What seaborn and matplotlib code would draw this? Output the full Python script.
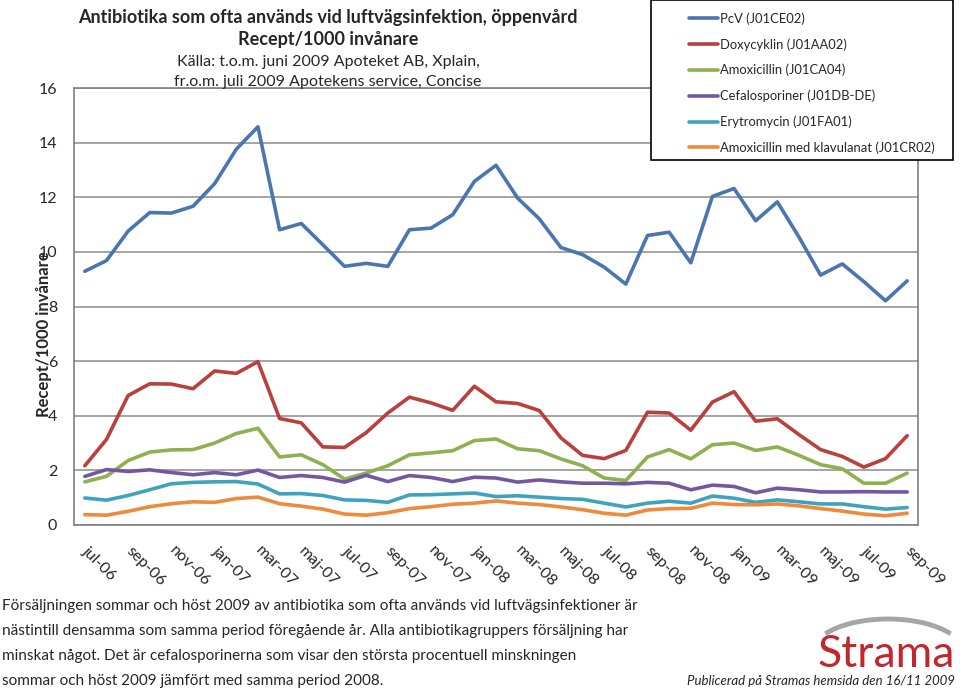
import pandas as pd
import seaborn as sns
import matplotlib.pyplot as plt
from matplotlib.patches import Rectangle, Arc

# months jul-06 .. sep-09
months = ["jul-06", "aug-06", "sep-06", "okt-06", "nov-06", "dec-06",
          "jan-07", "feb-07", "mar-07", "apr-07", "maj-07", "jun-07",
          "jul-07", "aug-07", "sep-07", "okt-07", "nov-07", "dec-07",
          "jan-08", "feb-08", "mar-08", "apr-08", "maj-08", "jun-08",
          "jul-08", "aug-08", "sep-08", "okt-08", "nov-08", "dec-08",
          "jan-09", "feb-09", "mar-09", "apr-09", "maj-09", "jun-09",
          "jul-09", "aug-09", "sep-09"]

pcv = [9.29, 9.68, 10.76, 11.44, 11.42, 11.67, 12.50, 13.76, 14.58, 10.81,
       11.04, 10.26, 9.47, 9.58, 9.47, 10.81, 10.87, 11.36, 12.58, 13.17,
       11.97, 11.21, 10.16, 9.90, 9.44, 8.82, 10.60, 10.72, 9.60, 12.03,
       12.32, 11.14, 11.83, 10.54, 9.15, 9.56, 8.91, 8.21, 8.94]
doxy = [2.17, 3.13, 4.74, 5.17, 5.16, 4.99, 5.64, 5.55, 5.98, 3.90,
        3.74, 2.86, 2.84, 3.38, 4.10, 4.68, 4.47, 4.20, 5.08, 4.51,
        4.45, 4.19, 3.19, 2.55, 2.43, 2.73, 4.13, 4.10, 3.47, 4.50,
        4.88, 3.80, 3.89, 3.31, 2.76, 2.51, 2.12, 2.43, 3.27]
amox = [1.58, 1.78, 2.36, 2.67, 2.75, 2.76, 3.00, 3.35, 3.54, 2.49,
        2.57, 2.21, 1.68, 1.90, 2.17, 2.57, 2.64, 2.72, 3.09, 3.15,
        2.79, 2.72, 2.42, 2.17, 1.72, 1.63, 2.49, 2.76, 2.42, 2.94,
        3.00, 2.73, 2.86, 2.55, 2.21, 2.06, 1.53, 1.53, 1.90]
cef = [1.78, 2.03, 1.96, 2.02, 1.92, 1.84, 1.92, 1.84, 2.01, 1.74,
       1.81, 1.74, 1.57, 1.82, 1.59, 1.81, 1.74, 1.59, 1.75, 1.72,
       1.57, 1.65, 1.58, 1.53, 1.53, 1.51, 1.56, 1.53, 1.29, 1.46,
       1.41, 1.18, 1.35, 1.29, 1.21, 1.21, 1.22, 1.21, 1.21]
ery = [0.99, 0.91, 1.08, 1.29, 1.51, 1.56, 1.58, 1.59, 1.50, 1.14,
       1.15, 1.08, 0.92, 0.90, 0.83, 1.10, 1.11, 1.14, 1.17, 1.04,
       1.07, 1.02, 0.97, 0.94, 0.80, 0.66, 0.80, 0.87, 0.80, 1.06,
       0.98, 0.83, 0.92, 0.85, 0.77, 0.77, 0.67, 0.58, 0.64]
amcl = [0.38, 0.36, 0.50, 0.67, 0.78, 0.85, 0.83, 0.97, 1.02, 0.78,
        0.69, 0.58, 0.40, 0.36, 0.45, 0.60, 0.67, 0.76, 0.80, 0.88,
        0.80, 0.75, 0.66, 0.56, 0.43, 0.36, 0.55, 0.60, 0.61, 0.80,
        0.75, 0.74, 0.77, 0.70, 0.60, 0.51, 0.40, 0.34, 0.43]

series_names = ["PcV (J01CE02)", "Doxycyklin (J01AA02)", "Amoxicillin (J01CA04)",
                "Cefalosporiner (J01DB-DE)", "Erytromycin (J01FA01)",
                "Amoxicillin med klavulanat (J01CR02)"]
colors = ["#4A76B0", "#B8403D", "#8DB14E", "#7357A0", "#3FA3BE", "#EE8A3C"]

# long table for seaborn
frames = []
for name, vals in zip(series_names, [pcv, doxy, amox, cef, ery, amcl]):
    frames.append(pd.DataFrame({"idx": range(len(months)), "month": months,
                                "value": vals, "serie": name}))
df = pd.concat(frames, ignore_index=True)

sns.set_style("white")
plt.rcParams["font.family"] = ["Lato", "DejaVu Sans"]

fig = plt.figure(figsize=(9.6, 6.9), dpi=100)
ax = fig.add_axes([74 / 960, 1 - 525 / 690, 844 / 960, 437 / 690])

sns.lineplot(data=df, x="idx", y="value", hue="serie", hue_order=series_names,
             palette=colors, linewidth=2.6, ax=ax)

ax.set_xlim(-0.5, len(months) - 0.5)
ax.set_ylim(0, 16)
ax.set_yticks(range(0, 17, 2))
ax.yaxis.grid(True, color="#8c8c8c", linewidth=1.1)
ax.set_xticks(range(0, len(months), 2))
ax.set_xticklabels(months[::2], rotation=-45, rotation_mode="anchor",
                   ha="left", va="center")
ax.tick_params(axis="x", length=0, pad=17, labelsize=11.5)
ax.tick_params(axis="y", length=0, pad=12, labelsize=11.5)
ax.set_xlabel("")
ax.set_ylabel("")
for sp in ax.spines.values():
    sp.set_color("#7f7f7f")
    sp.set_linewidth(1.2)

# legend box on top-right
handles, labels = ax.get_legend_handles_labels()
ax.get_legend().remove()
box = Rectangle((651 / 960, 1 - 160 / 690), 302 / 960, 160 / 690,
                transform=fig.transFigure, facecolor="white",
                edgecolor="black", linewidth=1.2, zorder=3)
fig.add_artist(box)
leg = fig.legend(handles, labels, loc="upper left",
                 bbox_to_anchor=(678 / 960, 1 - 1 / 690), frameon=False,
                 fontsize=9.4, handlelength=2.2, handletextpad=0.15,
                 labelspacing=1.02, borderpad=0.35)
leg.set_zorder(4)

# titles
tx = 328 / 960
fig.text(tx, 1 - 17 / 690, "Antibiotika som ofta används vid luftvägsinfektion, öppenvård",
         ha="center", va="center", fontsize=13, fontweight="bold")
fig.text(tx, 1 - 40 / 690, "Recept/1000 invånare", ha="center", va="center",
         fontsize=13, fontweight="bold")
fig.text(tx, 1 - 62 / 690, "Källa: t.o.m. juni 2009 Apoteket AB, Xplain,",
         ha="center", va="center", fontsize=11.5)
fig.text(tx, 1 - 82 / 690, "fr.o.m. juli 2009 Apotekens service, Concise",
         ha="center", va="center", fontsize=11.5)

fig.text(44 / 960, 1 - 334 / 690, "Recept/1000 invånare", rotation=90,
         ha="center", va="center", fontsize=12, fontweight="bold")

# bottom comment
comment = ["Försäljningen sommar och höst 2009 av antibiotika som ofta används vid luftvägsinfektioner är",
           "nästintill densamma som samma period föregående år. Alla antibiotikagruppers försäljning har",
           "minskat något. Det är cefalosporinerna som visar den största procentuell minskningen",
           "sommar och höst 2009 jämfört med samma period 2008."]
for i, line in enumerate(comment):
    fig.text(2 / 960, 1 - (606 + 25 * i) / 690, line, ha="left", va="center",
             fontsize=11)

# Strama logo
fig.add_artist(Arc((888 / 960, 1 - 652 / 690), 150 / 960, 66 / 690,
                   theta1=22, theta2=158, transform=fig.transFigure,
                   color="#a6a6a6", linewidth=3.5))
fig.text(955 / 960, 1 - 667 / 690, "Strama", ha="right", va="baseline",
         fontsize=32, color="#C1272D")
fig.text(955 / 960, 1 - 681 / 690, "Publicerad på Stramas hemsida den 16/11 2009",
         ha="right", va="center", fontsize=9.5, style="italic")

plt.savefig("out.png", dpi=100)
